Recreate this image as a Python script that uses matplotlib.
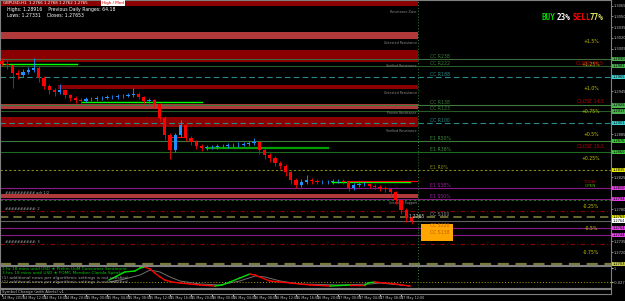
import numpy as np
import matplotlib
matplotlib.use("Agg")
import matplotlib.pyplot as plt
import matplotlib.transforms as mtransforms

W, H = 625, 301

# hourly candles, hour 0 = 14 May 08:00
first_open = 1.2988
closes = [1.2983, 1.2982, 1.2971, 1.2968, 1.2972, 1.2975, 1.2978, 1.2964, 1.2953, 1.2947,
          1.2944, 1.2947, 1.2940, 1.2936, 1.2933, 1.2932, 1.2934, 1.2934, 1.2936, 1.2936,
          1.2937, 1.2937, 1.2939, 1.2939, 1.2940, 1.2941, 1.2937, 1.2932, 1.2933, 1.2927,
          1.2908, 1.2884, 1.2863, 1.2884, 1.2898, 1.2880, 1.2874, 1.2869, 1.2866, 1.2867,
          1.2867, 1.2869, 1.2869, 1.2870, 1.2870, 1.2870, 1.2871, 1.2873, 1.2874, 1.2863,
          1.2856, 1.2852, 1.2845, 1.2841, 1.2832, 1.2821, 1.2814, 1.2818, 1.2821, 1.2820,
          1.2818, 1.2818, 1.2818, 1.2820, 1.2820, 1.2818, 1.2810, 1.2814, 1.2815, 1.2815,
          1.2813, 1.2811, 1.2810, 1.2808, 1.2804, 1.2793, 1.2779, 1.2768, 1.2764]
highs = [1.2992, 1.2989, 1.2984, 1.2975, 1.2976, 1.2979, 1.2992, 1.2980, 1.2967, 1.2956,
         1.2950, 1.2955, 1.2949, 1.2942, 1.2939, 1.2936, 1.2937, 1.2937, 1.2939, 1.2938,
         1.2940, 1.2940, 1.2941, 1.2942, 1.2943, 1.2950, 1.2944, 1.2939, 1.2936, 1.2935,
         1.2929, 1.2911, 1.2887, 1.2887, 1.2905, 1.2900, 1.2883, 1.2877, 1.2872, 1.2870,
         1.2870, 1.2871, 1.2872, 1.2873, 1.2873, 1.2874, 1.2874, 1.2876, 1.2880, 1.2876,
         1.2866, 1.2859, 1.2855, 1.2848, 1.2843, 1.2834, 1.2824, 1.2822, 1.2828, 1.2824,
         1.2822, 1.2821, 1.2821, 1.2823, 1.2823, 1.2822, 1.2820, 1.2817, 1.2819, 1.2818,
         1.2817, 1.2815, 1.2814, 1.2812, 1.2810, 1.2806, 1.2795, 1.2782, 1.2771]
lows = [1.2980, 1.2976, 1.2950, 1.2962, 1.2965, 1.2969, 1.2972, 1.2958, 1.2948, 1.2941,
        1.2939, 1.2941, 1.2936, 1.2931, 1.2929, 1.2928, 1.2930, 1.2931, 1.2932, 1.2933,
        1.2934, 1.2935, 1.2935, 1.2936, 1.2937, 1.2937, 1.2934, 1.2929, 1.2929, 1.2923,
        1.2903, 1.2877, 1.2850, 1.2860, 1.2881, 1.2876, 1.2870, 1.2865, 1.2862, 1.2863,
        1.2864, 1.2864, 1.2866, 1.2866, 1.2867, 1.2867, 1.2868, 1.2869, 1.2870, 1.2858,
        1.2851, 1.2846, 1.2840, 1.2836, 1.2827, 1.2816, 1.2810, 1.2811, 1.2815, 1.2816,
        1.2815, 1.2815, 1.2815, 1.2816, 1.2817, 1.2815, 1.2806, 1.2807, 1.2811, 1.2812,
        1.2810, 1.2808, 1.2806, 1.2804, 1.2799, 1.2788, 1.2773, 1.2762, 1.2759]
opens = [first_open] + closes[:-1]

# supply / demand zones
zone_lo = [1.30646, 1.30184, 1.29862, 1.29484, 1.29204, 1.28952, 1.27958]
zone_hi = [1.30730, 1.30282, 1.30030, 1.29540, 1.29274, 1.29092, 1.28014]
zone_start = [-0.4, -0.4, -0.4, 10.7, -0.4, -0.4, -0.4]
zone_end = 79.2
zone_colors = ['#8b0000', '#b03a3a', '#8b0000', '#8b0000', '#b03a3a', '#8b0000', '#b03a3a']
zone_tag_prices = [1.30590, 1.30150, 1.29830, 1.29450, 1.29180, 1.28920, 1.27920]
zone_tags = ['Resistance Zone', 'Untested Resistance', 'Verified Resistance', 'Untested Resistance',
             'Proven Resistance', 'Verified Resistance', 'Untested Support']

# horizontal levels
level_prices = [1.29904, 1.29806, 1.29652, 1.29253, 1.29169, 1.29008, 1.28756, 1.28602,
                1.28350, 1.28098, 1.27944, 1.27930, 1.27776, 1.27692, 1.27643, 1.27538,
                1.27440, 1.27314, 1.27034]
level_colors = ['#3d6b3d', '#285a28', '#2a8a8a', '#3d7b3d', '#285a28', '#2a8a8a', '#3d7b3d',
                '#1e6a1e', '#8b8b20', '#8b1a8b', '#8b1a8b', '#207020', '#8b0000', '#7a7a3a',
                '#606060', '#8b1a8b', '#8b1a8b', '#8b0000', '#7a7a3a']
level_styles = ['-', '-', (0, (5, 3)), '-', '-', (0, (5, 3)), '-', '-', (0, (2, 2)), '-', '-',
                (0, (2, 2)), (0, (4, 2, 1, 2)), (0, (5, 3)), '-', '-', '-', (0, (4, 2, 1, 2)),
                (0, (5, 3))]
level_widths = [0.8, 0.8, 0.8, 0.8, 0.8, 0.8, 0.8, 0.8, 0.8, 0.8, 0.8, 0.8, 0.8, 1.2, 0.8,
                0.8, 0.8, 0.8, 1.6]
box_colors = ['#4caf50', '#4caf50', '#40d0d0', '#4caf50', '#4caf50', '#40d0d0', '#3cc83c',
              '#3cc83c', '#e6e600', '#e040e0', '#e040e0', None, None, '#e6e600', '#ffffff',
              '#e040e0', '#e040e0', None, '#c8c84a']
level_labels = ['CC R238', 'CC R222', 'CC R188', 'CC R138', 'CC R123', 'CC R100', 'E1 R50%',
                'E1 R38%', 'E1 R0%', 'E1 S38%', 'E1 S50%', '', '', 'CC S100', '', 'CC S120',
                'CC S138', '', '']
label_colors = ['#3d7b3d', '#3d7b3d', '#2a8a8a', '#3d7b3d', '#3d7b3d', '#2a8a8a', '#3d8b3d',
                '#3d8b3d', '#8b8b20', '#a020a0', '#a020a0', '', '', '#909090', '', '#c06000',
                '#c06000', '', '']
axis_ticks = [1.2720, 1.2735, 1.2780, 1.2825, 1.2885, 1.2945, 1.3005, 1.3020, 1.3035, 1.3050,
              1.3065]

# daily range percent levels
pct_prices = [1.30142, 1.29820, 1.29484, 1.29162, 1.28840, 1.28504, 1.27846, 1.27524, 1.27188]
pct_labels = ['+1.5%', '+1.25%', '+1.0%', '+0.75%', '+0.5%', '+0.25%', '-0.25%', '-0.5%', '-0.75%']
close_prices = [1.29834, 1.29302, 1.28672]
close_labels = ['CLOSE 16.5', 'CLOSE 14.5', 'CLOSE 15.5']

# pivot labels on the left
pivot_prices = [1.28000, 1.27776, 1.27314]
pivot_labels = ['########## adr 1/2', '##########: 2', '##########: 3']

# short trend lines: price, start hour, end hour, colour, width
seg_prices = [1.29834, 1.29302, 1.28658, 1.28182, 1.28196, 1.28812]
seg_start = [0.0, 15.2, 39.0, 62.9, 65.7, 32.0]
seg_end = [14.3, 38.1, 62.0, 77.7, 79.0, 34.9]
seg_colors = ['#00ff00', '#00ff00', '#00a000', '#00ff00', '#ff0000', '#ff0000']
seg_widths = [1.0, 1.0, 1.6, 1.0, 0.8, 0.8]

# orange target box
box_lo, box_hi, box_x0, box_x1 = 1.27356, 1.27594, 79.8, 85.9

# news indicator sub window
osc_hours = [20.4, 21.9, 23.4, 25.3, 26.3, 27.2, 28.2, 29.1, 30.1, 31.0, 32.4, 33.9, 35.8,
             37.7, 40.6, 41.9, 43.4, 45.3, 47.2, 48.2, 49.1, 51.0, 53.0, 54.9, 58.7, 62.5,
             66.3, 69.1, 69.7, 71.0, 73.0, 74.9, 77.7]
osc_vals = [0.40, 0.60, 0.80, 0.85, 1.00, 1.05, 0.95, 0.75, 0.55, 0.40, 0.30, 0.25, 0.20,
            0.15, 0.10, 0.15, 0.30, 0.50, 0.70, 0.65, 0.55, 0.35, 0.30, 0.25, 0.15, 0.10,
            0.15, 0.15, 0.25, 0.30, 0.25, 0.20, 0.10]
sig_hours = [20.4, 23.4, 26.3, 28.2, 30.1, 32.0, 33.9, 37.7, 41.5, 45.3, 48.2, 50.1, 53.0,
             56.8, 64.4, 70.1, 72.0, 75.8, 77.7]
sig_vals = [0.30, 0.45, 0.65, 0.90, 0.80, 0.55, 0.35, 0.20, 0.15, 0.35, 0.60, 0.55, 0.35,
            0.20, 0.15, 0.20, 0.25, 0.15, 0.10]
osc_level = 0.30

time_labels = ['14 May 2019', '14 May 12:00', '14 May 16:00', '14 May 20:00', '15 May 00:00',
               '15 May 04:00', '15 May 08:00', '15 May 12:00', '15 May 16:00', '15 May 20:00',
               '16 May 00:00', '16 May 04:00', '16 May 08:00', '16 May 12:00', '16 May 16:00',
               '16 May 20:00', '17 May 00:00', '17 May 04:00', '17 May 08:00', '17 May 12:00']
news_lines = ['1 hr 18 mins until USD \u2605 Prelim UoM Consumer Sentiment',
              '3 hrs 18 mins until USD \u2605 FOMC Member Clarida Speaks',
              '(1) additional news per algorithmic settings is not satisfied',
              '(1) additional news per algorithmic settings is not satisfied']
news_colors = ['#00c800', '#00c800', '#a0a0a0', '#a0a0a0']

XLIM = (-2 / 5.25, 609 / 5.25)
YLIM = (1.3073 - 265 * 0.00014, 1.3073)
GRAY = '#808080'
AXFS = 2.6

fig = plt.figure(figsize=(W / 100, H / 100), dpi=100, facecolor='black')


def px_axes(x0, y0, x1, y1):
    a = fig.add_axes([x0 / W, 1 - y1 / H, (x1 - x0) / W, (y1 - y0) / H])
    a.set_facecolor('black')
    for s in a.spines.values():
        s.set_color(GRAY)
        s.set_linewidth(0.8)
    return a


ax = px_axes(0, 0, 611, 265)
ax.set_xlim(*XLIM)
ax.set_ylim(*YLIM)

# zones
for lo, hi, x0, col in zip(zone_lo, zone_hi, zone_start, zone_colors):
    ax.fill_between([x0, zone_end], lo, hi, color=col, lw=0, zorder=1)
for p, t in zip(zone_tag_prices, zone_tags):
    ax.text(79.0, p, t, fontsize=2.3, color='#8a8a8a', ha='right', va='top', zorder=3)

# levels
trans = mtransforms.blended_transform_factory(ax.transAxes, ax.transData)
for p, col, ls, lw, bc, lab, lc in zip(level_prices, level_colors, level_styles, level_widths,
                                       box_colors, level_labels, label_colors):
    ax.axhline(p, color=col, ls=ls, lw=lw, zorder=2)
    if bc:
        ax.text(1.002, p, f'{p:.4f}', transform=trans, fontsize=AXFS, color='black',
                va='center', ha='left', clip_on=False, zorder=6,
                bbox=dict(boxstyle='square,pad=0.12', fc=bc, ec='none'))
    if lab:
        ax.text(81.5, p, lab, fontsize=3.3, color=lc, va='bottom', ha='left', zorder=5)

ax.fill_between([box_x0, box_x1], box_lo, box_hi, color='#ffa500', lw=0, zorder=3)

for p, s, e, col, w in zip(seg_prices, seg_start, seg_end, seg_colors, seg_widths):
    ax.plot([s, e], [p, p], color=col, lw=w, zorder=4)

for p, t in zip(pivot_prices, pivot_labels):
    ax.text(0.6, p, t, fontsize=2.6, color='#b0b0b0', ha='left', va='bottom', zorder=5)

# candles
hours = np.arange(len(closes))
o = np.array(opens)
c = np.array(closes)
cols = np.where(c >= o, '#1e90ff', '#ff0000')
ax.vlines(hours, lows, highs, colors=cols, lw=0.6, zorder=5)
ax.bar(hours, np.abs(c - o), bottom=np.minimum(o, c), width=0.6, color=cols, lw=0, zorder=5)

for p, t in zip(pct_prices, pct_labels):
    ax.text(112.2, p, t, fontsize=3.3, color='#c8c800', ha='center', va='center', zorder=6)
for p, t in zip(close_prices, close_labels):
    ax.text(112.0, p, t, fontsize=3.3, color='#c00000', ha='center', va='center', zorder=6)
ax.text(112.0, 1.28182, 'TODAY', fontsize=3.0, color='#c00000', ha='center', va='center')
ax.text(112.0, 1.28130, 'OPEN', fontsize=3.0, color='#50b000', ha='center', va='center')
ax.text(77.5, 1.27692, '1.2765', fontsize=3.3, color='#c0c0c0', ha='left', va='center', zorder=6)

ax.axvline(79.2, color='#2e7d32', ls=(0, (1, 2)), lw=0.7, zorder=2)

ax.yaxis.tick_right()
ax.set_yticks(axis_ticks)
ax.yaxis.set_major_formatter(matplotlib.ticker.FormatStrFormatter('%.4f'))
ax.tick_params(axis='y', colors='#c0c0c0', labelsize=AXFS, length=1.2, width=0.5, pad=0.6)
ax.set_xticks([])

# texts at the top
fig.text(3 / W, 1 - 3 / H, 'GBPUSD,H1  1.2766 1.2768 1.2762 1.2765', fontsize=2.9,
         color='white', va='center', ha='left')
fig.text(102 / W, 1 - 3 / H, 'High / Med', fontsize=3.0, color='#d00000', va='center',
         ha='left', bbox=dict(boxstyle='square,pad=0.2', fc='white', ec='none'))
fig.text(7 / W, 1 - 10 / H, 'Highs: 1.28916    Previous Daily Ranges: 64.18', fontsize=3.3,
         color='white', va='center', ha='left')
fig.text(7 / W, 1 - 15.5 / H, 'Lows: 1.27331    Closes: 1.27653', fontsize=3.3,
         color='white', va='center', ha='left')
for x, t, col in [(541, 'BUY', '#00d000'), (557, '23%', 'white'),
                  (573, 'SELL', '#ff0000'), (589, '77%', '#e0e060')]:
    fig.text(x / W, 1 - 18 / H, t, fontsize=5.5, color=col, family='DejaVu Sans Mono',
             weight='bold', va='center', ha='left')

# news indicator
ax2 = px_axes(0, 266, 611, 288)
ax2.set_xlim(*XLIM)
ax2.set_ylim(0, 1.1)
ax2.axhline(osc_level, color='#b0a000', ls=(0, (1, 2)), lw=0.7)
ax2.plot(sig_hours, sig_vals, color='#707070', lw=0.7)
for i in range(len(osc_hours) - 1):
    col = '#00e000' if osc_vals[i + 1] > osc_vals[i] else '#ff0000'
    ax2.plot(osc_hours[i:i + 2], osc_vals[i:i + 2], color=col, lw=1.0)
ax2.axvline(79.2, color='#2e7d32', ls=(0, (1, 2)), lw=0.7)
for i, (t, col) in enumerate(zip(news_lines, news_colors)):
    ax2.text(0.004, 0.88 - i * 0.21, t, transform=ax2.transAxes, fontsize=3.1, color=col,
             va='center', ha='left')
ax2.yaxis.tick_right()
ax2.set_yticks([osc_level, 1.0])
ax2.set_yticklabels(['-0.027', '1'])
ax2.tick_params(axis='y', colors='#c0c0c0', labelsize=AXFS, length=1.2, pad=0.6)
ax2.set_xticks([])

ax3 = px_axes(0, 289, 611, 294)
ax3.set_xlim(*XLIM)
ax3.set_yticks([])
ax3.text(0.004, 0.5, 'Symbol Change (with Alerts) v1', transform=ax3.transAxes,
         fontsize=2.8, color='#c0c0c0', va='center', ha='left')
ax3.set_xticks(np.arange(0, 4 * len(time_labels), 4))
ax3.set_xticklabels(time_labels, ha='left')
ax3.tick_params(axis='x', colors='#c0c0c0', labelsize=2.4, length=1.2, pad=0.5)

fig.savefig('out.png', dpi=100, facecolor='black')
